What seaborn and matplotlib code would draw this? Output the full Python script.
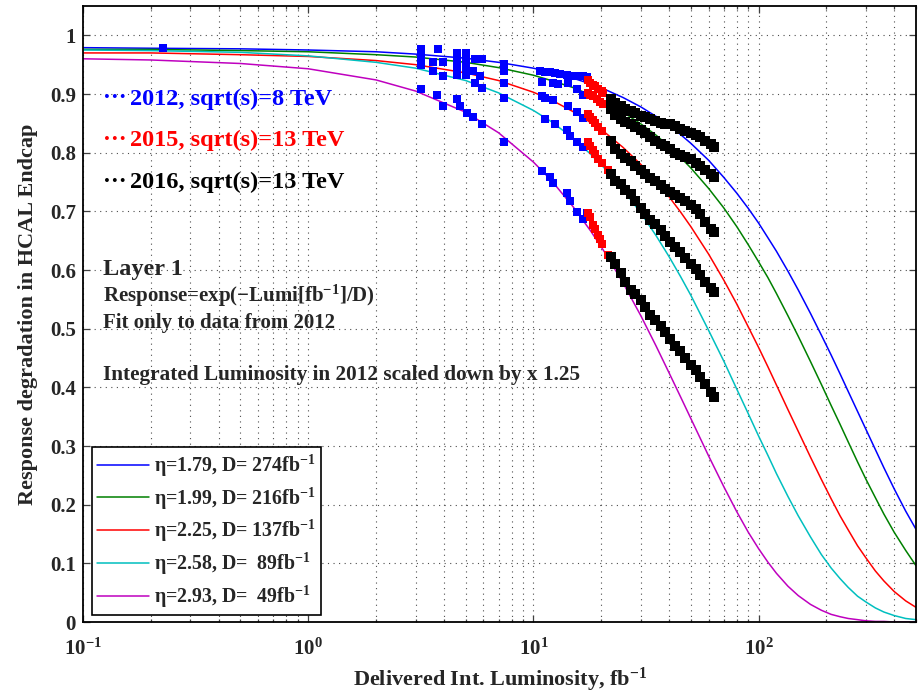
import numpy as np
import pandas as pd
import matplotlib
matplotlib.use("Agg")
import matplotlib.pyplot as plt
import seaborn as sns
from matplotlib import font_manager as fm
from matplotlib.text import Text
from matplotlib.lines import Line2D
from matplotlib.ticker import FixedLocator, FixedFormatter, LogLocator, NullFormatter

# ---------------- data ----------------
fit_lumi = [0.1, 0.2, 0.5, 1, 2, 3, 5, 7, 10, 12, 15, 18, 21, 25, 30, 35, 40, 45, 50, 60, 70, 80,
            90, 100, 110, 120, 135, 150, 170, 190, 210, 230, 250, 275, 300, 330, 360, 400, 450, 500]
fit_179 = [0.979, 0.978, 0.977, 0.975, 0.972, 0.968, 0.961, 0.954, 0.944, 0.937, 0.927, 0.917,
           0.907, 0.894, 0.878, 0.862, 0.846, 0.831, 0.816, 0.787, 0.758, 0.731, 0.705, 0.680,
           0.655, 0.632, 0.598, 0.566, 0.526, 0.489, 0.455, 0.423, 0.393, 0.359, 0.328, 0.294,
           0.263, 0.227, 0.189, 0.158]
fit_199 = [0.976, 0.976, 0.974, 0.972, 0.967, 0.963, 0.954, 0.945, 0.932, 0.923, 0.911, 0.898,
           0.886, 0.869, 0.849, 0.830, 0.811, 0.792, 0.774, 0.739, 0.706, 0.674, 0.643, 0.614,
           0.587, 0.560, 0.522, 0.487, 0.444, 0.405, 0.369, 0.337, 0.307, 0.273, 0.243, 0.212,
           0.184, 0.153, 0.122, 0.096]
fit_225 = [0.970, 0.970, 0.967, 0.964, 0.957, 0.950, 0.936, 0.923, 0.903, 0.890, 0.870, 0.851,
           0.833, 0.809, 0.780, 0.752, 0.725, 0.699, 0.674, 0.627, 0.583, 0.542, 0.503, 0.468,
           0.435, 0.404, 0.362, 0.325, 0.281, 0.243, 0.210, 0.181, 0.157, 0.130, 0.109, 0.087,
           0.070, 0.052, 0.036, 0.025]
fit_258 = [0.975, 0.974, 0.971, 0.965, 0.954, 0.944, 0.923, 0.902, 0.872, 0.853, 0.825, 0.797,
           0.771, 0.737, 0.697, 0.659, 0.623, 0.589, 0.557, 0.497, 0.445, 0.397, 0.355, 0.317,
           0.284, 0.253, 0.214, 0.181, 0.145, 0.115, 0.092, 0.074, 0.059, 0.044, 0.034, 0.024,
           0.017, 0.011, 0.006, 0.004]
fit_293 = [0.960, 0.958, 0.952, 0.943, 0.924, 0.905, 0.869, 0.834, 0.784, 0.753, 0.708, 0.666,
           0.627, 0.578, 0.522, 0.471, 0.425, 0.384, 0.347, 0.283, 0.231, 0.188, 0.153, 0.125,
           0.102, 0.083, 0.061, 0.045, 0.030, 0.020, 0.013, 0.009, 0.006, 0.004, 0.002, 0.001,
           0.001, 0.000, 0.000, 0.000]
fit_labels = ["η=1.79, D= 274fb$^{-1}$", "η=1.99, D= 216fb$^{-1}$", "η=2.25, D= 137fb$^{-1}$",
              "η=2.58, D=  89fb$^{-1}$", "η=2.93, D=  49fb$^{-1}$"]
fit_colors = ["#0000ff", "#008000", "#ff0000", "#00bfbf", "#bf00bf"]

lumi_2012 = [0.227,
             3.17, 3.17, 3.17, 3.17, 3.17,
             3.78, 3.59, 3.98, 3.59, 3.98, 3.74, 3.98,
             4.59, 5.00, 4.59, 5.00, 4.59, 5.00, 4.59, 5.00, 4.59, 4.74, 5.09, 5.41, 5.93,
             5.52, 5.93, 5.41, 5.81, 5.52, 5.93,
             7.43, 7.43, 7.43, 7.43, 7.43,
             10.74, 11.31, 11.9, 12.52, 13.18, 14.16, 14.6, 15.69, 16.68, 17.38,
             10.96, 12.27, 12.91, 14.31, 15.69, 16.68,
             10.96, 11.31, 12.27, 14.31, 15.69, 16.68,
             11.31, 12.52, 14.16, 14.6, 15.69, 16.68,
             10.96, 11.9, 12.27, 14.16, 14.6, 15.69, 16.68, 17.38]
resp_2012 = [0.979,
             0.977, 0.969, 0.959, 0.949, 0.909,
             0.977, 0.955, 0.955, 0.940, 0.931, 0.898, 0.880,
             0.970, 0.970, 0.957, 0.957, 0.942, 0.942, 0.932, 0.932, 0.891, 0.880, 0.868, 0.860, 0.849,
             0.959, 0.959, 0.939, 0.930, 0.919, 0.910,
             0.951, 0.939, 0.919, 0.894, 0.818,
             0.939, 0.938, 0.937, 0.935, 0.934, 0.932, 0.931, 0.930, 0.930, 0.929,
             0.921, 0.918, 0.917, 0.919, 0.909, 0.898,
             0.897, 0.893, 0.890, 0.880, 0.870, 0.859,
             0.858, 0.849, 0.839, 0.829, 0.819, 0.810,
             0.769, 0.759, 0.749, 0.732, 0.718, 0.699, 0.687, 0.698]

lumi_2015 = [17.56, 17.92, 18.48, 18.86, 19.45, 20.27, 20.47,
             17.56, 17.92, 18.48, 19.25, 19.86, 20.47,
             17.56, 17.92, 18.48, 18.86, 19.45, 20.27,
             17.56, 17.92, 18.48, 18.86, 19.45, 20.27, 21.5,
             17.56, 17.92, 18.48, 18.86, 19.45, 19.86, 20.27, 21.5]
resp_2015 = [0.924, 0.919, 0.916, 0.913, 0.909, 0.905, 0.902,
             0.902, 0.899, 0.896, 0.891, 0.887, 0.883,
             0.866, 0.861, 0.855, 0.850, 0.843, 0.837,
             0.818, 0.812, 0.804, 0.797, 0.790, 0.783, 0.770,
             0.697, 0.690, 0.677, 0.670, 0.660, 0.652, 0.645, 0.625]

lumi_2016 = [22.0, 23.1, 24.4, 25.6, 27.0, 28.4, 29.9, 31.4, 33.1, 34.8, 36.7, 38.6, 40.6,
             42.7, 45.0, 47.3, 49.9, 52.5, 55.2, 58.1, 61.2, 63.1]
resp_2016_t1 = [0.891, 0.885, 0.880, 0.875, 0.871, 0.867, 0.863, 0.860, 0.857, 0.854, 0.851,
                0.849, 0.849, 0.845, 0.840, 0.837, 0.834, 0.830, 0.826, 0.820, 0.815, 0.809]
resp_2016_t2 = [0.874, 0.864, 0.858, 0.853, 0.849, 0.843, 0.838, 0.833, 0.826, 0.820, 0.815,
                0.811, 0.806, 0.800, 0.796, 0.793, 0.789, 0.783, 0.777, 0.771, 0.763, 0.758]
resp_2016_t3 = [0.820, 0.806, 0.797, 0.791, 0.785, 0.778, 0.771, 0.764, 0.757, 0.752, 0.745,
                0.738, 0.733, 0.728, 0.723, 0.717, 0.711, 0.704, 0.695, 0.681, 0.670, 0.664]
resp_2016_t4 = [0.763, 0.752, 0.746, 0.736, 0.729, 0.717, 0.705, 0.695, 0.685, 0.679, 0.668,
                0.658, 0.648, 0.639, 0.630, 0.620, 0.610, 0.601, 0.592, 0.580, 0.569, 0.562]
resp_2016_t5 = [0.622, 0.610, 0.595, 0.580, 0.566, 0.559, 0.549, 0.537, 0.524, 0.515, 0.504,
                0.494, 0.482, 0.471, 0.462, 0.450, 0.438, 0.430, 0.417, 0.406, 0.392, 0.383]

year_labels = ["2012, sqrt(s)=8 TeV", "2015, sqrt(s)=13 TeV", "2016, sqrt(s)=13 TeV"]
year_colors = ["#0000ff", "#ff0000", "#000000"]

x_ticks = [0.1, 1, 10, 100]
x_ticklabels = ["10$^{-1}$", "10$^{0}$", "10$^{1}$", "10$^{2}$"]
y_ticks = [0, 0.1, 0.2, 0.3, 0.4, 0.5, 0.6, 0.7, 0.8, 0.9, 1.0]
y_ticklabels = ["0", "0.1", "0.2", "0.3", "0.4", "0.5", "0.6", "0.7", "0.8", "0.9", "1"]

# ---------------- style ----------------
sns.set_style("ticks")
plt.rcParams["font.family"] = ["Liberation Serif", "DejaVu Serif"]
plt.rcParams["font.weight"] = "bold"
plt.rcParams["mathtext.fontset"] = "custom"
plt.rcParams["mathtext.rm"] = "Liberation Serif:bold"
plt.rcParams["mathtext.it"] = "Liberation Serif:bold:italic"
plt.rcParams["mathtext.bf"] = "Liberation Serif:bold"
plt.rcParams["mathtext.default"] = "rm"

bold_path = None
for f in fm.fontManager.ttflist:
    if f.name == "Liberation Serif" and f.style == "normal" and f.weight in (700, "bold"):
        bold_path = f.fname
        break

fig = plt.figure(figsize=(9.21, 6.94), dpi=100)
ax = fig.add_axes([83 / 921, 72 / 694, 833 / 921, 616 / 694])

# fit curves
fit_df = pd.DataFrame({
    "lumi": fit_lumi * 5,
    "resp": fit_179 + fit_199 + fit_225 + fit_258 + fit_293,
    "fit": sum([[lab] * len(fit_lumi) for lab in fit_labels], []),
})
sns.lineplot(data=fit_df, x="lumi", y="resp", hue="fit", hue_order=fit_labels,
             palette=fit_colors, estimator=None, sort=False, lw=1.1, legend=False, ax=ax,
             zorder=2)

# data points
sns.scatterplot(x=lumi_2012, y=resp_2012, color="#0000ff", marker="s", s=30,
                linewidth=0, ax=ax, zorder=3)
sns.scatterplot(x=lumi_2015, y=resp_2015, color="#ff0000", marker="s", s=34,
                linewidth=0, ax=ax, zorder=3)
for tr in [resp_2016_t1, resp_2016_t2, resp_2016_t3, resp_2016_t4, resp_2016_t5]:
    sns.scatterplot(x=lumi_2016, y=tr, color="#000000", marker="s", s=46,
                    linewidth=0, ax=ax, zorder=3)

# axes
ax.set_xscale("log")
ax.set_xlim(0.1, 500)
ax.set_ylim(0, 1.05)
ax.xaxis.set_major_locator(FixedLocator(x_ticks))
ax.xaxis.set_major_formatter(FixedFormatter(x_ticklabels))
ax.xaxis.set_minor_locator(LogLocator(base=10, subs=np.arange(2, 10)))
ax.xaxis.set_minor_formatter(NullFormatter())
ax.yaxis.set_major_locator(FixedLocator(y_ticks))
ax.yaxis.set_major_formatter(FixedFormatter(y_ticklabels))

ax.grid(True, which="both", axis="x", ls=(0, (1, 4)), color="0.3", lw=0.8)
ax.grid(True, which="major", axis="y", ls=(0, (1, 4)), color="0.3", lw=0.8)
ax.set_axisbelow(True)

ax.tick_params(which="both", direction="in", top=True, right=True, width=0.9, color="0.25")
ax.tick_params(which="major", length=5)
ax.tick_params(which="minor", length=2.5)
ax.tick_params(axis="x", which="major", labelsize=15, pad=12)
ax.tick_params(axis="y", which="major", labelsize=15, pad=5)
for sp in ax.spines.values():
    sp.set_linewidth(1.3)
    sp.set_color("black")

ax.set_xlabel("Delivered Int. Luminosity, fb$^{-1}$", fontsize=16, fontweight="bold")
ax.set_ylabel("Response degradation in HCAL Endcap", fontsize=16, fontweight="bold")
ax.xaxis.set_label_coords((500 - 83) / 833, (622 - 680) / 616)
ax.xaxis.label.set_va("center")
ax.yaxis.set_label_coords((28 - 83) / 833, 0.5)
ax.yaxis.label.set_va("center")

# year labels
for lab, col, ypx in zip(year_labels, year_colors, [99, 140, 182]):
    yy = (622 - ypx) / 616
    ax.text((103 - 83) / 833, yy, "···", color=col, fontsize=17, fontweight="bold",
            va="center", ha="left", transform=ax.transAxes)
    ax.text((130 - 83) / 833, yy, lab, color=col, fontsize=17.5, fontweight="bold",
            va="center", ha="left", transform=ax.transAxes)

ax.text((103 - 83) / 833, (622 - 270) / 616, "Layer 1", fontsize=17.5, fontweight="bold",
        va="center", ha="left", transform=ax.transAxes)
ax.text((103 - 83) / 833, (622 - 296) / 616, "Response=exp(−Lumi[fb$^{-1}$]/D)", fontsize=15,
        fontweight="bold", va="center", ha="left", transform=ax.transAxes)
ax.text((103 - 83) / 833, (622 - 323) / 616, "Fit only to data from 2012", fontsize=15,
        fontweight="bold", va="center", ha="left", transform=ax.transAxes)
ax.text((103 - 83) / 833, (622 - 375) / 616,
        "Integrated Luminosity in 2012 scaled down by x 1.25", fontsize=15.3,
        fontweight="bold", va="center", ha="left", transform=ax.transAxes)

handles = [Line2D([], [], color=c, lw=1.1) for c in fit_colors]
leg = ax.legend(handles, fit_labels, loc="lower left",
                bbox_to_anchor=((92 - 83) / 833, (622 - 615) / 616), borderaxespad=0,
                fontsize=14.3, frameon=True, fancybox=False, framealpha=1, edgecolor="black",
                handlelength=2.6, handletextpad=0.25, labelspacing=0.33, borderpad=0.26)
leg.get_frame().set_linewidth(1.2)

# force the bold serif face on every text
if bold_path is not None:
    for t in fig.findobj(Text):
        t.set_fontproperties(fm.FontProperties(fname=bold_path, size=t.get_fontsize()))

fig.savefig("out.png", dpi=100)
